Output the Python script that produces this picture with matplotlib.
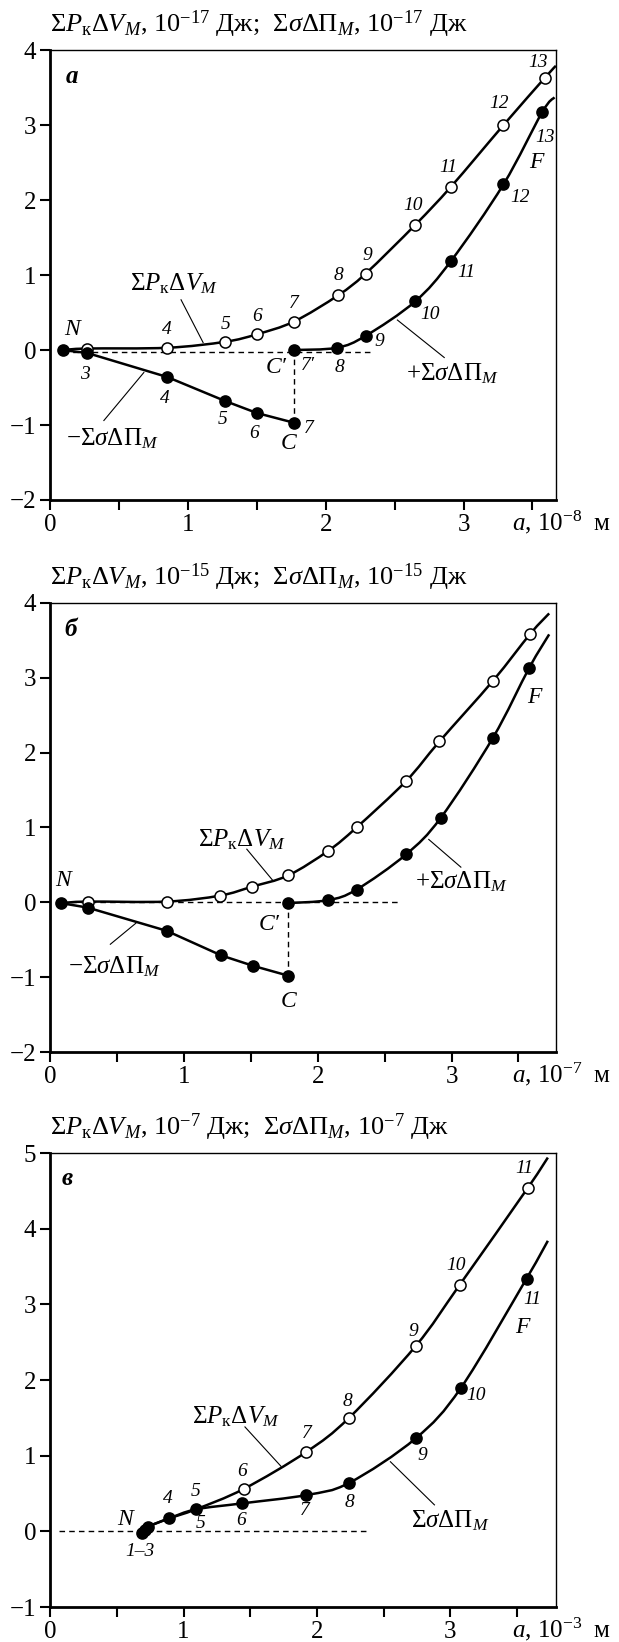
import matplotlib
matplotlib.use("Agg")
import matplotlib.pyplot as plt
from matplotlib.path import Path
from matplotlib.patches import PathPatch
from matplotlib.ticker import MultipleLocator, FuncFormatter
import numpy as np

plt.rcParams['font.family'] = ['Liberation Serif', 'DejaVu Serif']
plt.rcParams['mathtext.fontset'] = 'custom'
plt.rcParams['mathtext.rm'] = 'Liberation Serif'
plt.rcParams['mathtext.it'] = 'Liberation Serif:italic'
plt.rcParams['mathtext.bf'] = 'Liberation Serif:bold'

# ---- panel а (10^-8 m, 10^-17 J) ----
a_open_x = [0.27, 0.85, 1.27, 1.50, 1.77, 2.09, 2.29, 2.65, 2.91, 3.29, 3.59]
a_open_y = [0.02, 0.03, 0.11, 0.21, 0.38, 0.73, 1.02, 1.67, 2.18, 3.00, 3.63]
a_open_end = (3.67, 3.79)
a_neg_x = [0.09, 0.27, 0.85, 1.27, 1.50, 1.77]
a_neg_y = [0.00, -0.04, -0.36, -0.68, -0.84, -0.97]
a_pos_x = [1.77, 2.08, 2.29, 2.65, 2.91, 3.29, 3.57]
a_pos_y = [0.00, 0.03, 0.19, 0.65, 1.19, 2.21, 3.17]
a_pos_end = (3.66, 3.37)

# ---- panel б (10^-7 m, 10^-15 J) ----
b_open_x = [0.28, 0.87, 1.27, 1.51, 1.78, 2.08, 2.29, 2.66, 2.91, 3.31, 3.59]
b_open_y = [0.01, 0.01, 0.09, 0.21, 0.36, 0.69, 1.00, 1.62, 2.15, 2.96, 3.59]
b_open_end = (3.73, 3.86)
b_neg_x = [0.08, 0.28, 0.87, 1.28, 1.52, 1.78]
b_neg_y = [-0.01, -0.07, -0.38, -0.71, -0.85, -0.98]
b_pos_x = [1.78, 2.08, 2.29, 2.66, 2.92, 3.31, 3.58]
b_pos_y = [-0.01, 0.03, 0.17, 0.64, 1.13, 2.20, 3.13]
b_pos_end = (3.73, 3.58)

# ---- panel в (10^-3 m, 10^-7 J) ----
c_open_x = [1.45, 1.92, 2.24, 2.74, 3.07, 3.58]
c_open_y = [0.56, 1.05, 1.50, 2.45, 3.26, 4.54]
c_open_end = (3.73, 4.94)
c_fill_x = [0.69, 0.71, 0.73, 0.89, 1.09, 1.44, 1.92, 2.24, 2.74, 3.08, 3.57]
c_fill_y = [-0.02, 0.02, 0.06, 0.17, 0.29, 0.37, 0.48, 0.64, 1.23, 1.90, 3.34]
c_fill_end = (3.73, 3.84)

PK = r"$\Sigma\mathit{P}_{\mathrm{к}}\Delta\mathit{V}_{\mathit{M}}$"
SP = r"$\Sigma\sigma\Delta\Pi_{\mathit{M}}$"


def smooth(xs, ys):
    # catmull-rom through the points, as bezier path
    p = np.column_stack([xs, ys])
    verts = [p[0]]
    codes = [Path.MOVETO]
    n = len(p)
    for i in range(n - 1):
        p0 = p[i - 1] if i > 0 else p[i]
        p3 = p[i + 2] if i + 2 < n else p[i + 1]
        c1 = p[i] + (p[i + 1] - p0) / 6
        c2 = p[i + 1] - (p3 - p[i]) / 6
        verts += [c1, c2, p[i + 1]]
        codes += [Path.CURVE4] * 3
    return Path(verts, codes)


def curve(ax, xs, ys):
    ax.add_patch(PathPatch(smooth(xs, ys), fc='none', ec='k', lw=1.8, zorder=2))


def dots(ax, xs, ys, filled):
    ax.plot(xs, ys, 'o', ms=8, mec='k', mew=1.1,
            mfc='k' if filled else 'white', zorder=3)


def frame(ax, xmax, ylo, yhi, xunit, ytitle):
    ax.set_xlim(0, xmax)
    ax.set_ylim(ylo, yhi)
    ax.xaxis.set_major_locator(MultipleLocator(0.5))
    ax.xaxis.set_major_formatter(FuncFormatter(
        lambda v, p: str(int(round(v))) if abs(v - round(v)) < 1e-6 else ''))
    ax.yaxis.set_major_locator(MultipleLocator(1))
    ax.yaxis.set_major_formatter(FuncFormatter(
        lambda v, p: ('\u2212' if v < 0 else '') + str(abs(int(round(v))))))
    ax.tick_params(direction='out', length=7, width=1.5, labelsize=18, pad=3,
                   top=False, right=False)
    for s in ['left', 'bottom']:
        ax.spines[s].set_linewidth(2)
    for s in ['top', 'right']:
        ax.spines[s].set_linewidth(1)
    ax.annotate(ytitle, xy=(0, 1), xycoords='axes fraction', xytext=(0, 7),
                textcoords='offset points', ha='left', va='bottom', fontsize=19)
    ax.annotate(r"$\mathit{a}$, 10$^{%d}$  м" % xunit, xy=(1.11, 0),
                xycoords='axes fraction', xytext=(0, -6),
                textcoords='offset points', ha='right', va='top', fontsize=18)


def lbl(ax, items, size=14):
    for x, y, s in items:
        ax.text(x, y, s, fontsize=size, style='italic', ha='center', va='center')


def leader(ax, p0, p1):
    ax.plot([p0[0], p1[0]], [p0[1], p1[1]], color='k', lw=0.8)


fig = plt.figure(figsize=(6.19, 16.42), dpi=100)
L, W = 0.081, 0.817
ax1 = fig.add_axes([L, 0.6955, W, 0.2740])
ax2 = fig.add_axes([L, 0.3593, W, 0.2735])
ax3 = fig.add_axes([L, 0.0213, W, 0.2765])

# ---------- а ----------
ax = ax1
frame(ax, 3.67, -2, 4, -8, r"$\Sigma\mathit{P}_{\mathrm{к}}\Delta\mathit{V}_{\mathit{M}}$, 10$^{-17}$ Дж;  "
      r"$\Sigma\sigma\Delta\Pi_{\mathit{M}}$, 10$^{-17}$ Дж")
ax.plot([a_neg_x[0], 2.32], [-0.03, -0.03], 'k', lw=1, ls=(0, (4, 3)))
ax.plot([a_neg_x[-1], a_pos_x[0]], [a_neg_y[-1], a_pos_y[0]], 'k', lw=1, ls=(0, (4, 3)))
curve(ax, [a_neg_x[0]] + a_open_x + [a_open_end[0]], [a_neg_y[0]] + a_open_y + [a_open_end[1]])
ax.plot(a_neg_x, a_neg_y, 'k', lw=1.8)
curve(ax, a_pos_x + [a_pos_end[0]], a_pos_y + [a_pos_end[1]])
dots(ax, a_open_x, a_open_y, False)
dots(ax, a_neg_x, a_neg_y, True)
dots(ax, a_pos_x, a_pos_y, True)
lbl(ax, [(0.85, 0.27, '4'), (1.27, 0.34, '5'), (1.50, 0.45, '6'), (1.77, 0.62, '7'),
         (2.09, 0.99, '8'), (2.30, 1.26, '9'), (2.63, 1.93, '10'), (2.89, 2.44, '11'),
         (3.26, 3.29, '12'), (3.54, 3.84, '13'),
         (0.25, -0.32, '3'), (0.83, -0.65, '4'), (1.25, -0.93, '5'), (1.48, -1.11, '6'),
         (1.88, -1.04, '7'), (1.87, -0.21, '7\u2032'), (2.10, -0.23, '8'), (2.39, 0.12, '9'),
         (2.76, 0.47, '10'), (3.02, 1.03, '11'), (3.41, 2.04, '12'), (3.59, 2.83, '13')])
lbl(ax, [(0.16, 0.27, 'N'), (1.64, -0.23, 'C\u2032'), (1.73, -1.24, 'C'), (3.53, 2.5, 'F')], 17)
ax.text(0.16, 3.65, 'а', fontsize=18, weight='bold', style='italic', ha='center', va='center')
ax.text(0.9, 0.88, PK, fontsize=18, ha='center', va='center')
leader(ax, (0.95, 0.67), (1.11, 0.1))
ax.text(0.45, -1.18, '\u2212' + SP, fontsize=18, ha='center', va='center')
leader(ax, (0.39, -0.94), (0.68, -0.3))
ax.text(2.92, -0.32, '+' + SP, fontsize=18, ha='center', va='center')
leader(ax, (2.86, -0.1), (2.52, 0.4))

# ---------- б ----------
ax = ax2
frame(ax, 3.78, -2, 4, -7, r"$\Sigma\mathit{P}_{\mathrm{к}}\Delta\mathit{V}_{\mathit{M}}$, 10$^{-15}$ Дж;  "
      r"$\Sigma\sigma\Delta\Pi_{\mathit{M}}$, 10$^{-15}$ Дж")
ax.plot([b_neg_x[0], 2.62], [0, 0], 'k', lw=1, ls=(0, (4, 3)))
ax.plot([b_neg_x[-1], b_pos_x[0]], [b_neg_y[-1], b_pos_y[0]], 'k', lw=1, ls=(0, (4, 3)))
curve(ax, [b_neg_x[0]] + b_open_x + [b_open_end[0]], [b_neg_y[0]] + b_open_y + [b_open_end[1]])
ax.plot(b_neg_x, b_neg_y, 'k', lw=1.8)
curve(ax, b_pos_x + [b_pos_end[0]], b_pos_y + [b_pos_end[1]])
dots(ax, b_open_x, b_open_y, False)
dots(ax, b_neg_x, b_neg_y, True)
dots(ax, b_pos_x, b_pos_y, True)
lbl(ax, [(0.10, 0.29, 'N'), (1.64, -0.30, 'C\u2032'), (1.78, -1.33, 'C'), (3.62, 2.73, 'F')], 17)
ax.text(0.15, 3.65, 'б', fontsize=18, weight='bold', style='italic', ha='center', va='center')
ax.text(1.43, 0.84, PK, fontsize=18, ha='center', va='center')
leader(ax, (1.47, 0.71), (1.67, 0.28))
ax.text(0.48, -0.86, '\u2212' + SP, fontsize=18, ha='center', va='center')
leader(ax, (0.45, -0.56), (0.64, -0.28))
ax.text(3.07, 0.27, '+' + SP, fontsize=18, ha='center', va='center')
leader(ax, (3.07, 0.47), (2.83, 0.84))

# ---------- в ----------
ax = ax3
frame(ax, 3.79, -1, 5, -3, r"$\Sigma\mathit{P}_{\mathrm{к}}\Delta\mathit{V}_{\mathit{M}}$, 10$^{-7}$ Дж;  "
      r"$\Sigma\sigma\Delta\Pi_{\mathit{M}}$, 10$^{-7}$ Дж")
ax.plot([0.07, 2.39], [0, 0], 'k', lw=1, ls=(0, (4, 3)))
curve(ax, c_fill_x[:5] + c_open_x + [c_open_end[0]], c_fill_y[:5] + c_open_y + [c_open_end[1]])
curve(ax, c_fill_x + [c_fill_end[0]], c_fill_y + [c_fill_end[1]])
dots(ax, c_open_x, c_open_y, False)
dots(ax, c_fill_x, c_fill_y, True)
lbl(ax, [(0.67, -0.26, '1\u20133'), (0.88, 0.44, '4'), (1.09, 0.53, '5'), (1.13, 0.11, '5'),
         (1.44, 0.79, '6'), (1.43, 0.14, '6'), (1.92, 1.29, '7'), (1.91, 0.27, '7'),
         (2.23, 1.71, '8'), (2.24, 0.38, '8'), (2.72, 2.64, '9'), (2.79, 1.0, '9'),
         (3.04, 3.51, '10'), (3.19, 1.79, '10'), (3.55, 4.79, '11'), (3.61, 3.07, '11')])
lbl(ax, [(0.56, 0.16, 'N'), (3.54, 2.69, 'F')], 17)
ax.text(0.13, 4.66, 'в', fontsize=18, weight='bold', style='italic', ha='center', va='center')
ax.text(1.39, 1.51, PK, fontsize=18, ha='center', va='center')
leader(ax, (1.46, 1.38), (1.73, 0.86))
ax.text(3.0, 0.14, SP, fontsize=18, ha='center', va='center')
leader(ax, (2.88, 0.35), (2.55, 0.92))

fig.savefig('out.png', dpi=100)
